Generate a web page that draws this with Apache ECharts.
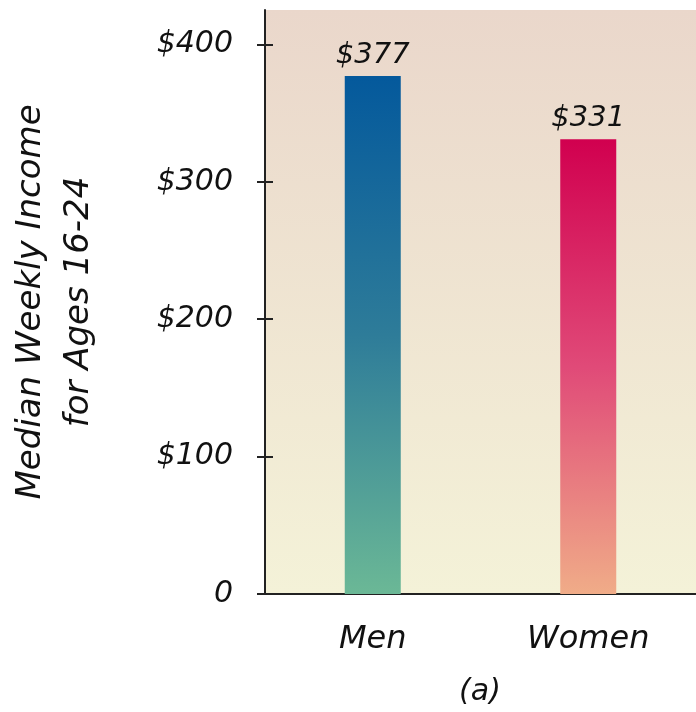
<!DOCTYPE html>
<html>
<head>
<meta charset="utf-8">
<script src="https://cdn.jsdelivr.net/npm/echarts@6/dist/echarts.min.js"></script>
<style>
  html, body { margin: 0; padding: 0; background: #ffffff; }
  #chart { width: 696px; height: 712px; }
</style>
</head>
<body>
<div id="chart"></div>
<script>
// Median weekly income, ages 16-24
const categories = ['Men', 'Women'];
const incomeValues = [377, 331];
const tickValues = [0, 100, 200, 300, 400];
const tickLabels = ['0', '$100', '$200', '$300', '$400'];
const axisTitle = 'Median Weekly Income\nfor Ages 16-24';
const caption = '(a)';

const FONT = '"DejaVu Sans", "Noto Sans", sans-serif';

const barGradients = [
  new echarts.graphic.LinearGradient(0, 0, 0, 1, [
    { offset: 0, color: '#04599c' },
    { offset: 0.5, color: '#2e7c99' },
    { offset: 1, color: '#6bb896' }
  ]),
  new echarts.graphic.LinearGradient(0, 0, 0, 1, [
    { offset: 0, color: '#d1004f' },
    { offset: 0.5, color: '#e04a78' },
    { offset: 1, color: '#f0ac88' }
  ])
];

const chart = echarts.init(document.getElementById('chart'), null, { renderer: 'canvas' });

chart.setOption({
  backgroundColor: '#ffffff',
  animation: false,
  grid: {
    left: 265, right: 0, top: 10, bottom: 118,
    containLabel: false,
    outerBoundsMode: 'none',
    show: true,
    borderWidth: 0,
    backgroundColor: new echarts.graphic.LinearGradient(0, 0, 0, 1, [
      { offset: 0, color: '#ead7cb' },
      { offset: 1, color: '#f4f2d8' }
    ])
  },
  title: {
    text: caption,
    left: 475, textAlign: 'center',
    top: 672,
    textStyle: { fontFamily: FONT, fontStyle: 'italic', fontWeight: 'normal', fontSize: 30, color: '#111' }
  },
  xAxis: {
    type: 'category',
    data: categories,
    axisLine: { lineStyle: { color: '#222', width: 2 } },
    axisTick: { show: false },
    axisLabel: {
      margin: 30,
      fontFamily: FONT, fontStyle: 'italic', fontSize: 32, color: '#111'
    }
  },
  yAxis: [
    {
      type: 'value',
      min: 0, max: 425, interval: 100,
      name: axisTitle,
      nameLocation: 'middle',
      nameGap: 162,
      nameRotate: 90,
      nameTextStyle: {
        fontFamily: FONT, fontStyle: 'italic', fontSize: 34, color: '#111', lineHeight: 48
      },
      splitLine: { show: false },
      axisLine: { show: true, lineStyle: { color: '#222', width: 2 } },
      axisTick: { show: true, length: 8, customValues: tickValues, lineStyle: { color: '#222', width: 2 } },
      axisLabel: {
        margin: 32,
        customValues: tickValues,
        formatter: v => tickLabels[tickValues.indexOf(v)] || '',
        fontFamily: FONT, fontStyle: 'italic', fontSize: 30, color: '#111'
      }
    },
    {
      type: 'value',
      position: 'left',
      min: 0, max: 425, interval: 100,
      splitLine: { show: false },
      axisLine: { show: false },
      axisLabel: { show: false },
      axisTick: { show: true, inside: true, length: 8, customValues: tickValues, lineStyle: { color: '#222', width: 2 } }
    }
  ],
  series: [{
    type: 'bar',
    data: incomeValues.map((v, i) => ({ value: v, itemStyle: { color: barGradients[i] } })),
    barWidth: 56,
    label: {
      show: true,
      position: 'top',
      distance: 6,
      formatter: p => '$' + p.value,
      fontFamily: FONT, fontStyle: 'italic', fontSize: 29, color: '#111'
    }
  }]
});
</script>
</body>
</html>
